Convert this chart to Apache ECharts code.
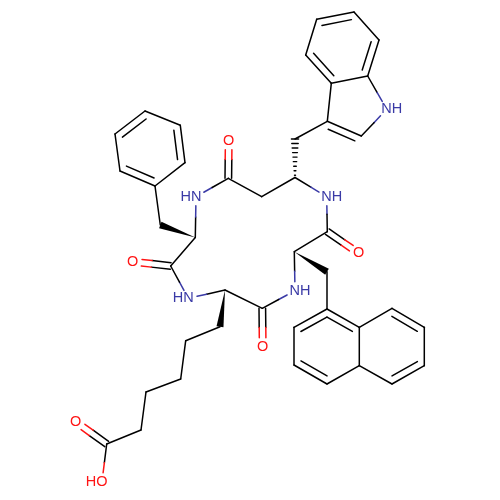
<!DOCTYPE html>
<html><head><meta charset="utf-8">
<style>html,body{margin:0;padding:0;background:#fff}#c{width:500px;height:500px}</style>
<script src="https://cdn.jsdelivr.net/npm/echarts@6/dist/echarts.min.js"></script>
</head><body><div id="c"></div>
<script>
// atom table: element label, x, y (picture units)
const atomX = [316.7,354,379,367.7,331.3,305.7,386.7,361.3,327.3,295,295,
 326.7,327.3,358.7,294.3,327,
 327,359.3,359.3,327,294,294,392,424.3,424.3,392,
 295,262.3,262.7,225,188.3,170.7,132.7,195.3,
 160.3,155,120,115,145,180.3,185,
 196,228.3,228.7,261.7,
 220,185.7,180.7,146,141,106.7,75.7,102];
const atomY = [19.3,12,40,76,83.3,55,109.3,136,121.3,139,177.5,
 196.7,231.7,253.3,251.7,271.7,
 309,327.3,365.7,384,365,327.3,308.3,327.3,365.7,384,
 290.7,308.3,346.7,290,298.3,266,261.7,237.5,
 225,186,171,134,111,125.3,162.7,
 196.7,178.3,140.7,196.7,
 326.7,340.7,379,392,430,444,421.7,481.7];
const labelText = {6:'NH',11:'NH',26:'NH',30:'HN',41:'HN',13:'O',28:'O',32:'O',43:'O',51:'O',52:'HO'};
// bonds: from, to, kind (s single, r ring double, c carbonyl double, w wedge, h hash)
const bondFrom = [0,1,2,3,4,5,3,6,7,8,8,10,10,11,12,12,14,14,15,
 16,17,18,19,20,21,17,22,23,24,25,
 26,27,27,29,29,30,31,31,33,33,
 34,35,36,37,38,39,40,
 41,42,42,44,45,46,47,48,49,50,50];
const bondTo = [1,2,3,4,5,0,6,7,8,4,9,9,11,12,13,14,15,26,16,
 17,18,19,20,21,16,22,23,24,25,18,
 27,28,29,45,30,31,32,33,41,34,
 35,36,37,38,39,40,35,
 42,43,44,10,46,47,48,49,50,51,52];
const bondKind = ['r','s','r','s','r','s','s','s','r','s','s','h','s','s','c','s','w','s','s',
 'r','s','s','r','s','r','s','r','s','r','s',
 's','c','s','w','s','s','c','s','s','w',
 's','r','s','r','s','r','s',
 's','c','s','s','s','s','s','s','s','c','s'];
// which side of the bond the inner line of a ring double bond falls on
const bondSide = [1,0,1,0,1,0,0,0,-1,0,0,0,0,0,0,0,0,0,0,
 1,0,0,1,0,1,0,1,0,1,0,
 0,0,0,0,0,0,0,0,0,0,
 0,1,0,1,0,1,0,
 0,0,0,0,0,0,0,0,0,0,0];

const BLUE='#3a3aa6', RED='#ff1414', BLACK='#000';
function atomColor(i){const t=labelText[i]; if(!t) return BLACK; return t.indexOf('N')>=0?BLUE:RED;}
const GAP=9, LW=1.5;
function seg(a,b,c,w){return {type:'line',shape:{x1:a[0],y1:a[1],x2:b[0],y2:b[1]},style:{stroke:c,lineWidth:w||LW,lineCap:'round'}};}
function halfBond(p,q,i,j,out){
  const dx=q[0]-p[0],dy=q[1]-p[1],L=Math.hypot(dx,dy);
  const gp=labelText[i]?GAP/L:0, gq=labelText[j]?GAP/L:0;
  const a=[p[0]+dx*gp,p[1]+dy*gp], b=[q[0]-dx*gq,q[1]-dy*gq], m=[(p[0]+q[0])/2,(p[1]+q[1])/2];
  const ci=atomColor(i), cj=atomColor(j);
  if(ci===cj) out.push(seg(a,b,ci)); else {out.push(seg(a,m,ci)); out.push(seg(m,b,cj));}
}
function renderBond(params,api){
  const idx=params.dataIndex, i=api.value(0), j=api.value(1);
  const p=api.coord([atomX[i],atomY[i]]), q=api.coord([atomX[j],atomY[j]]);
  const kind=bondKind[idx], dx=q[0]-p[0], dy=q[1]-p[1], L=Math.hypot(dx,dy), ux=dx/L, uy=dy/L, nx=-uy, ny=ux;
  const out=[];
  if(kind==='s') halfBond(p,q,i,j,out);
  if(kind==='r'){
    halfBond(p,q,i,j,out);
    const s=bondSide[idx]*7, sh=4;
    out.push(seg([p[0]+nx*s+ux*sh,p[1]+ny*s+uy*sh],[q[0]+nx*s-ux*sh,q[1]+ny*s-uy*sh],BLACK));
  }
  if(kind==='c'){
    [3.3,-3.3].forEach(s=>halfBond([p[0]+nx*s,p[1]+ny*s],[q[0]+nx*s,q[1]+ny*s],i,j,out));
  }
  if(kind==='w'){
    out.push({type:'polygon',shape:{points:[[p[0],p[1]],[q[0]+nx*3.5,q[1]+ny*3.5],[q[0]-nx*3.5,q[1]-ny*3.5]]},style:{fill:BLACK}});
  }
  if(kind==='h'){
    const n=9;
    for(let k=0;k<n;k++){
      const t=(k+0.5)/(n-0.5), w=3.3*t+0.3, c=[p[0]+dx*t,p[1]+dy*t];
      out.push(seg([c[0]+nx*w,c[1]+ny*w],[c[0]-nx*w,c[1]-ny*w],BLACK,1.4));
    }
  }
  return {type:'group',children:out};
}
const labelIdx = Object.keys(labelText).map(Number);
function renderLabel(params,api){
  const i=api.value(0), p=api.coord([atomX[i],atomY[i]]), t=labelText[i];
  const align = t==='NH'?'left':(t==='HN'||t==='HO')?'right':'center';
  const off = align==='left'?-5.5:align==='right'?5.5:0;
  return {type:'text',style:{x:p[0]+off,y:p[1],text:t,fill:atomColor(i),align:align,verticalAlign:'middle',
    font:'14.5px "Liberation Sans", Arial, sans-serif'}};
}
const chart=echarts.init(document.getElementById('c'),null,{renderer:'canvas'});
chart.setOption({
  animation:false,backgroundColor:'#fff',
  grid:{left:0,right:0,top:0,bottom:0},
  xAxis:{type:'value',min:0,max:500,show:false},
  yAxis:{type:'value',min:0,max:500,inverse:true,show:false},
  tooltip:{show:false},
  series:[
    {type:'custom',coordinateSystem:'cartesian2d',renderItem:renderBond,silent:true,
     data:bondFrom.map((a,k)=>[a,bondTo[k]]),encode:{x:0,y:1},clip:false},
    {type:'custom',coordinateSystem:'cartesian2d',renderItem:renderLabel,silent:true,
     data:labelIdx.map(i=>[i]),encode:{x:0},clip:false}
  ]
});
</script></body></html>
